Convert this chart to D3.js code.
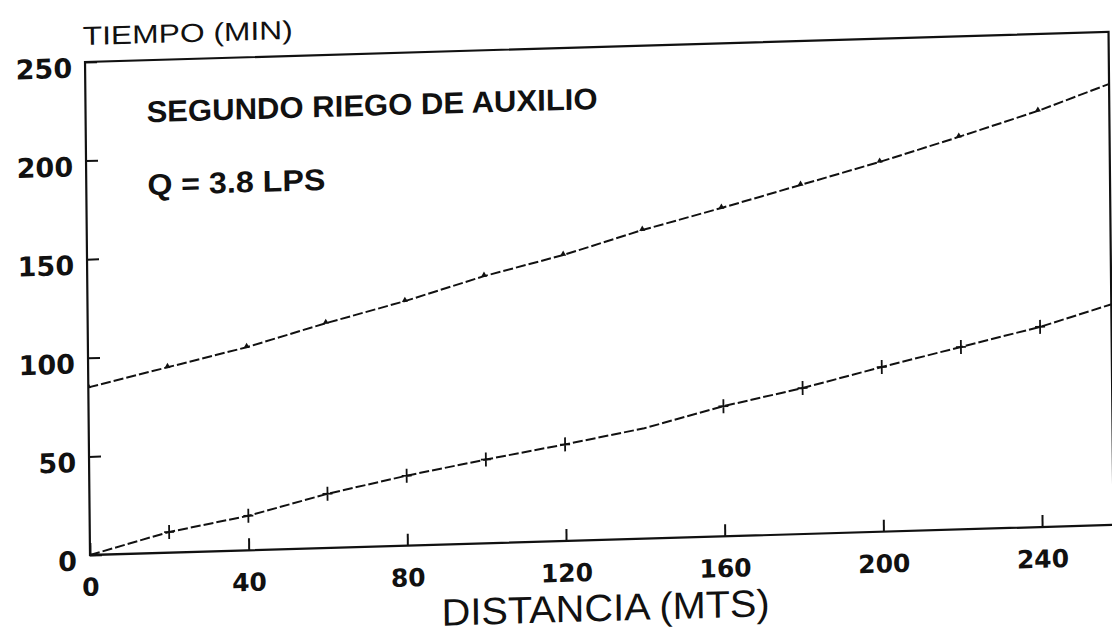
<!DOCTYPE html>
<html>
<head>
<meta charset="utf-8">
<script src="https://cdn.jsdelivr.net/npm/d3@7"></script>
<style>
body { margin: 0; background: #fff; }
</style>
</head>
<body>
<script>
// values
var distancia = [0, 20, 40, 60, 80, 100, 120, 140, 160, 180, 200, 220, 240, 260];
var tiempoSuperior = [85, 94, 103, 114, 124, 135.5, 145, 156.5, 166.5, 177, 187.5, 199, 211, 225];
var tiempoInferior = [0, 10.5, 17.5, 27.5, 35.5, 42.5, 49, 56, 66, 74, 83.5, 92.5, 101.5, 113];
var marcasSuperior = [0, 20, 40, 60, 80, 100, 120, 140, 160, 180, 200, 220, 240];
var marcasInferior = [20, 40, 60, 80, 100, 120, 160, 180, 200, 220, 240];
var xTicks = [0, 40, 80, 120, 160, 200, 240];
var yTicks = [0, 50, 100, 150, 200, 250];

var svg = d3.select("body")
    .append("svg")
    .attr("width", 1112)
    .attr("height", 634)
    .style("display", "block");

svg.append("rect").attr("width", 1112).attr("height", 634).attr("fill", "#fff");

// the scanned page is a bit skewed, so shear the whole drawing the same way
var page = svg.append("g").attr("transform", "matrix(1,-0.0294,0.0101,1,-5.6,2.65)");

margin = {top: 62, left: 90};
width = 1023.5;
height = 493;
g = page.append("g").attr("transform", "translate(" + margin.left + "," + margin.top + ")");

var x = d3.scaleLinear().domain([0, 258]).range([0, width]);
var y = d3.scaleLinear().domain([0, 250]).range([height, 0]);

var ink = "#111";

// axes with inward ticks
var xAxis = d3.axisBottom(x).tickValues(xTicks).tickSize(-12).tickSizeOuter(0).tickPadding(23);
var yAxis = d3.axisLeft(y).tickValues(yTicks).tickSize(-12).tickSizeOuter(0).tickPadding(13);

var gx = g.append("g").attr("transform", "translate(0," + height + ")").call(xAxis);
gx.select(".domain").remove();
gx.selectAll(".tick line").attr("stroke", ink).attr("stroke-width", 2);
gx.selectAll(".tick text")
    .attr("fill", ink)
    .style("font-family", "'DejaVu Sans'")
    .style("font-weight", "bold")
    .style("font-size", "25px");

var gy = g.append("g").call(yAxis);
gy.select(".domain").remove();
gy.selectAll(".tick line").attr("stroke", ink).attr("stroke-width", 2);
gy.selectAll(".tick text")
    .attr("fill", ink)
    .attr("dy", "0.55em")
    .style("font-family", "'DejaVu Sans'")
    .style("font-weight", "bold")
    .style("font-size", "27px");

// frame
g.append("rect")
    .attr("width", width)
    .attr("height", height)
    .attr("fill", "none")
    .attr("stroke", ink)
    .attr("stroke-width", 2.2);

g.append("clipPath").attr("id", "plot")
    .append("rect").attr("width", width).attr("height", height);

var superior = distancia.map(function(d, i) { return {d: d, t: tiempoSuperior[i]}; });
var inferior = distancia.map(function(d, i) { return {d: d, t: tiempoInferior[i]}; });

var line = d3.line()
    .x(function(p) { return x(p.d); })
    .y(function(p) { return y(p.t); });

var curvas = g.append("g").attr("clip-path", "url(#plot)");

[superior, inferior].forEach(function(serie) {
    curvas.append("path")
        .datum(serie)
        .attr("d", line)
        .attr("fill", "none")
        .attr("stroke", ink)
        .attr("stroke-width", 2)
        .attr("stroke-dasharray", "10,3");
});

// small triangles on the upper curve
curvas.selectAll(".tri")
    .data(superior.filter(function(p) { return marcasSuperior.indexOf(p.d) >= 0; }))
    .enter()
    .append("path")
    .attr("class", "tri")
    .attr("transform", function(p) { return "translate(" + x(p.d) + "," + (y(p.t) - 1) + ")"; })
    .attr("d", d3.symbol(d3.symbolTriangle).size(16))
    .attr("fill", ink);

// crosses on the lower curve
curvas.selectAll(".cruz")
    .data(inferior.filter(function(p) { return marcasInferior.indexOf(p.d) >= 0; }))
    .enter()
    .append("path")
    .attr("class", "cruz")
    .attr("transform", function(p) { return "translate(" + x(p.d) + "," + y(p.t) + ")"; })
    .attr("d", "M-5,0H5M0,-7V7")
    .attr("stroke", ink)
    .attr("stroke-width", 1.8);

// texts
page.append("text")
    .attr("x", 88)
    .attr("y", 45)
    .attr("textLength", 210)
    .attr("lengthAdjust", "spacingAndGlyphs")
    .attr("fill", ink)
    .style("font-family", "'Liberation Sans'")
    .style("font-size", "26px")
    .text("TIEMPO (MIN)");

page.append("text")
    .attr("x", 151)
    .attr("y", 124)
    .attr("textLength", 451)
    .attr("lengthAdjust", "spacingAndGlyphs")
    .attr("fill", ink)
    .style("font-family", "'Liberation Sans'")
    .style("font-weight", "bold")
    .style("font-size", "30px")
    .text("SEGUNDO RIEGO DE AUXILIO");

page.append("text")
    .attr("x", 151)
    .attr("y", 197)
    .attr("textLength", 178)
    .attr("lengthAdjust", "spacingAndGlyphs")
    .attr("fill", ink)
    .style("font-family", "'Liberation Sans'")
    .style("font-weight", "bold")
    .style("font-size", "30px")
    .text("Q = 3.8 LPS");

page.append("text")
    .attr("x", 441)
    .attr("y", 636)
    .attr("textLength", 328)
    .attr("lengthAdjust", "spacingAndGlyphs")
    .attr("fill", ink)
    .style("font-family", "'Liberation Sans'")
    .style("font-size", "38px")
    .text("DISTANCIA (MTS)");
</script>
</body>
</html>
